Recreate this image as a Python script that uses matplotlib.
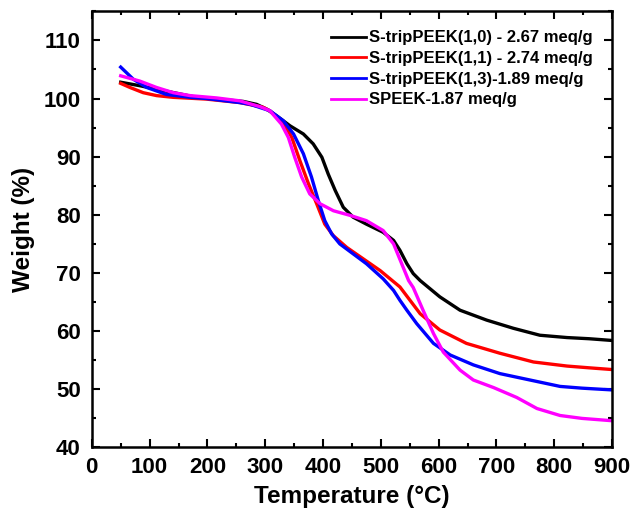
import numpy as np
import matplotlib
matplotlib.use("Agg")
from matplotlib import pyplot as plt
from matplotlib.ticker import MultipleLocator

plt.rcParams["font.family"] = ["Liberation Sans", "DejaVu Sans"]
plt.rcParams["font.weight"] = "bold"

# 数据：TGA 曲线 (温度 °C, 失重 %)
t_black = [50, 83, 112, 147, 181, 227, 262, 285, 302, 320, 343, 366, 383, 398, 409, 421,
           435, 452, 475, 504, 522, 533, 545, 556, 568, 602, 637, 683, 729, 775, 822, 860, 900]
w_black = [102.8, 102.2, 101.6, 100.9, 100.2, 99.8, 99.5, 99.0, 98.2, 97.0, 95.3, 93.9, 92.2,
           89.9, 87.0, 84.2, 81.3, 79.6, 78.4, 77.0, 75.6, 73.9, 71.6, 69.9, 68.7, 65.9, 63.6,
           61.9, 60.5, 59.3, 58.9, 58.7, 58.4]

t_red = [50, 66, 89, 112, 141, 198, 256, 296, 308, 331, 346, 360, 375, 389, 403, 418, 441,
         470, 499, 516, 533, 568, 602, 648, 706, 764, 822, 860, 900]
w_red = [102.6, 101.9, 101.0, 100.5, 100.2, 99.9, 99.3, 98.5, 97.9, 95.9, 93.3, 89.3, 85.3,
         81.9, 78.4, 76.4, 74.4, 72.4, 70.4, 69.0, 67.6, 63.0, 60.2, 57.9, 56.2, 54.7, 54.0,
         53.7, 53.4]

t_blue = [50, 72, 95, 129, 170, 198, 256, 274, 308, 331, 349, 366, 380, 392, 403, 415, 429,
          452, 475, 504, 522, 533, 545, 562, 591, 620, 660, 706, 758, 810, 848, 900]
w_blue = [105.4, 103.3, 101.9, 100.7, 100.2, 100.0, 99.3, 99.0, 97.9, 96.2, 93.9, 90.5, 86.5,
          82.4, 79.0, 76.7, 75.0, 73.3, 71.6, 69.0, 67.0, 65.3, 63.6, 61.3, 57.9, 55.9, 54.2,
          52.7, 51.6, 50.5, 50.2, 49.9]

t_pink = [50, 83, 112, 141, 170, 216, 256, 291, 308, 328, 340, 351, 363, 377, 395, 418, 447,
          475, 504, 522, 536, 548, 556, 573, 591, 608, 637, 660, 695, 735, 770, 810, 848, 900]
w_pink = [103.9, 103.0, 101.9, 101.0, 100.5, 100.1, 99.6, 98.6, 97.9, 95.6, 93.3, 89.9, 86.5,
          83.6, 81.9, 80.7, 79.9, 79.0, 77.3, 75.0, 71.6, 68.7, 67.5, 63.6, 59.6, 56.4, 53.3,
          51.6, 50.3, 48.6, 46.7, 45.5, 45.0, 44.6]

labels = ["S-tripPEEK(1,0) - 2.67 meq/g", "S-tripPEEK(1,1) - 2.74 meq/g",
          "S-tripPEEK(1,3)-1.89 meq/g", "SPEEK-1.87 meq/g"]

fig = plt.figure(figsize=(6.33, 5.12), dpi=100)
ax = fig.add_axes([0.145, 0.126, 0.822, 0.852])

ax.plot(t_black, w_black, color="black", lw=2.4, label=labels[0])
ax.plot(t_red, w_red, color="red", lw=2.4, label=labels[1])
ax.plot(t_blue, w_blue, color="blue", lw=2.4, label=labels[2])
ax.plot(t_pink, w_pink, color="magenta", lw=2.4, label=labels[3])

ax.set_xlim(0, 900)
ax.set_ylim(40, 115)
ax.xaxis.set_major_locator(MultipleLocator(100))
ax.xaxis.set_minor_locator(MultipleLocator(50))
ax.set_yticks([40, 50, 60, 70, 80, 90, 100, 110])
ax.yaxis.set_minor_locator(MultipleLocator(5))
ax.tick_params(which="both", direction="in", top=True, right=True, width=1.5)
ax.tick_params(which="major", length=6, labelsize=16)
ax.tick_params(which="minor", length=3)
ax.tick_params(axis="x", pad=7)
ax.tick_params(axis="y", pad=8)
for lab in ax.get_xticklabels() + ax.get_yticklabels():
    lab.set_fontweight("bold")
for sp in ax.spines.values():
    sp.set_linewidth(1.8)

ax.set_xlabel("Temperature (°C)", fontsize=17.5, fontweight="bold", labelpad=5)
ax.set_ylabel("Weight (%)", fontsize=17.5, fontweight="bold", labelpad=6)

leg = ax.legend(loc="upper right", frameon=False, fontsize=12, handlelength=2.1,
                labelspacing=0.34, borderaxespad=0.5, borderpad=0.65, handletextpad=0.2)
for line in leg.get_lines():
    line.set_linewidth(2)
for txt in leg.get_texts():
    txt.set_fontweight("bold")

fig.savefig("out.png", dpi=100)
